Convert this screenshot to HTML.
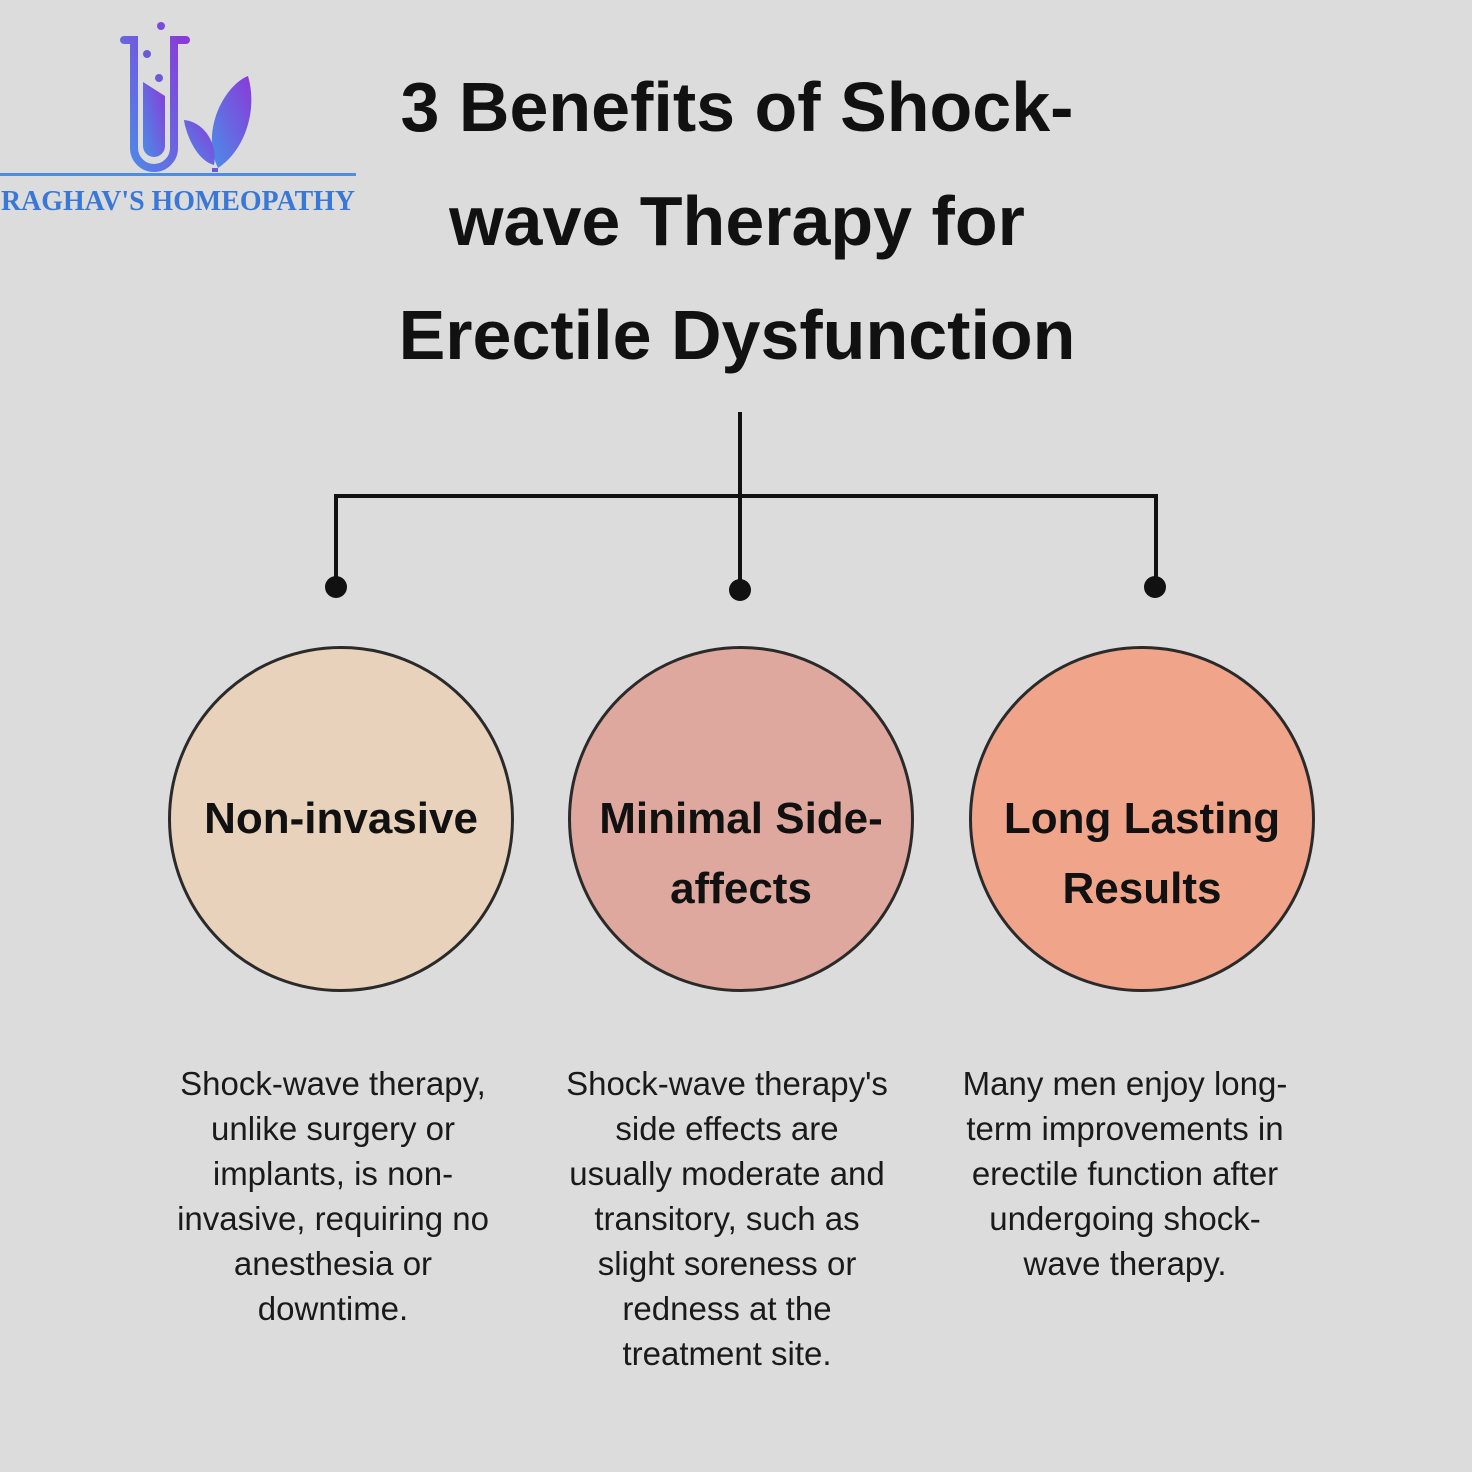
<!DOCTYPE html>
<html><head><style>
body{margin:0;width:1472px;height:1472px;background:#dcdcdc;font-family:"Liberation Sans",sans-serif;position:relative;overflow:hidden}
.t{position:absolute;text-align:center;color:#111}
.title{left:337px;width:800px;top:50px;font-size:70px;font-weight:bold;line-height:114px}
.c{position:absolute;width:346px;height:346px;border-radius:50%;border:3px solid #2a2a2a;display:flex;align-items:center;justify-content:center;text-align:center;font-size:44px;font-weight:bold;line-height:70px;color:#111;box-sizing:border-box}
.d{position:absolute;width:380px;font-size:33px;line-height:45px;text-align:center;color:#1a1a1a;top:1061px}
</style></head><body>
<svg width="1472" height="1472" style="position:absolute;left:0;top:0">
<defs><linearGradient id="g" x1="0" y1="1" x2="1" y2="0"><stop offset="0" stop-color="#4a8ee8"/><stop offset="1" stop-color="#8a3ad8"/></linearGradient></defs>
<path d="M124 40 H134 V148 a20 20 0 0 0 40 0 V40 H186" fill="none" stroke="url(#g)" stroke-width="8" stroke-linecap="round"/>
<path d="M143 82 V146 a11 11 0 0 0 22 0 V96 Z" fill="url(#g)"/>
<circle cx="161" cy="26" r="4" fill="#7a4ad8"/><circle cx="147" cy="54" r="4" fill="#6a5ad8"/><circle cx="159" cy="78" r="4" fill="#6a5ad8"/>
<path d="M218 168 C200 130 225 85 248 76 C258 110 245 150 218 168Z" fill="url(#g)"/>
<path d="M214 165 C195 160 185 130 184 120 C205 122 218 145 214 165Z" fill="url(#g)"/>
<path d="M215 168 V172" stroke="#6a5ad8" stroke-width="6"/>
<rect x="0" y="173" width="356" height="3" fill="#4a8ee8"/>
<text x="178" y="210" text-anchor="middle" font-family="Liberation Serif,serif" font-weight="bold" font-size="29" fill="#3a78d8" textLength="354" lengthAdjust="spacingAndGlyphs">RAGHAV'S HOMEOPATHY</text>
<g stroke="#111" stroke-width="4" fill="none">
<path d="M740 412 V590"/><path d="M336 587 V496 H1156 V587"/>
</g>
<circle cx="336" cy="587" r="11" fill="#111"/><circle cx="740" cy="590" r="11" fill="#111"/><circle cx="1155" cy="587" r="11" fill="#111"/>
</svg>
<div class="t title">3 Benefits of Shock-<br>wave Therapy for<br>Erectile Dysfunction</div>
<div class="c" style="left:168px;top:646px;background:#e8d2bc">Non-invasive</div>
<div class="c" style="left:568px;top:646px;background:#dfa89e;padding:70px 20px 0">Minimal Side-<br>affects</div>
<div class="c" style="left:969px;top:646px;background:#f0a48a;padding-top:70px">Long Lasting<br>Results</div>
<div class="d" style="left:143px">Shock-wave therapy,<br>unlike surgery or<br>implants, is non-<br>invasive, requiring no<br>anesthesia or<br>downtime.</div>
<div class="d" style="left:537px">Shock-wave therapy's<br>side effects are<br>usually moderate and<br>transitory, such as<br>slight soreness or<br>redness at the<br>treatment site.</div>
<div class="d" style="left:935px">Many men enjoy long-<br>term improvements in<br>erectile function after<br>undergoing shock-<br>wave therapy.</div>
</body></html>
